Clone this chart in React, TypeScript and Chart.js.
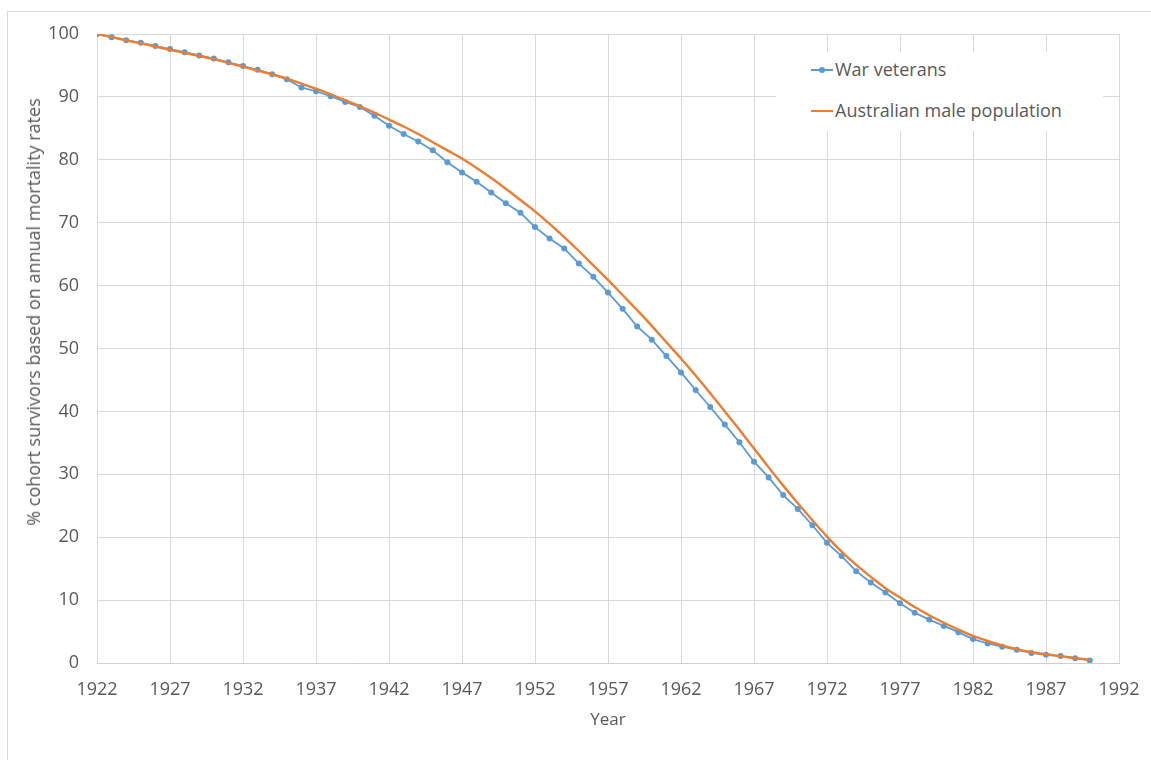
import React, { useEffect, useRef } from "react";
import { Chart, registerables } from "chart.js";

Chart.register(...registerables);

const years: number[] = [
  1922, 1923, 1924, 1925, 1926, 1927, 1928, 1929, 1930, 1931,
  1932, 1933, 1934, 1935, 1936, 1937, 1938, 1939, 1940, 1941,
  1942, 1943, 1944, 1945, 1946, 1947, 1948, 1949, 1950, 1951,
  1952, 1953, 1954, 1955, 1956, 1957, 1958, 1959, 1960, 1961,
  1962, 1963, 1964, 1965, 1966, 1967, 1968, 1969, 1970, 1971,
  1972, 1973, 1974, 1975, 1976, 1977, 1978, 1979, 1980, 1981,
  1982, 1983, 1984, 1985, 1986, 1987, 1988, 1989, 1990,
];

const warVeterans: number[] = [
  100, 99.5, 99.0, 98.6, 98.1, 97.6, 97.1, 96.6, 96.1, 95.5,
  94.9, 94.3, 93.6, 92.8, 91.5, 90.9, 90.1, 89.2, 88.4, 87.0,
  85.4, 84.1, 82.9, 81.5, 79.6, 78.0, 76.5, 74.8, 73.1, 71.6,
  69.3, 67.5, 65.9, 63.5, 61.4, 58.9, 56.3, 53.5, 51.4, 48.8,
  46.2, 43.4, 40.7, 37.9, 35.1, 32.0, 29.5, 26.7, 24.5, 21.9,
  19.1, 17.0, 14.6, 12.8, 11.2, 9.5, 8.0, 6.9, 5.9, 4.9,
  3.8, 3.1, 2.6, 2.1, 1.6, 1.3, 1.1, 0.75, 0.4,
];

const australianMales: number[] = [
  100, 99.5, 99.0, 98.5, 98.0, 97.5, 97.0, 96.5, 96.0, 95.4,
  94.8, 94.2, 93.6, 92.9, 92.1, 91.3, 90.4, 89.5, 88.5, 87.5,
  86.4, 85.3, 84.1, 82.8, 81.5, 80.2, 78.7, 77.1, 75.4, 73.6,
  71.8, 69.8, 67.7, 65.5, 63.2, 60.9, 58.5, 56.1, 53.6, 51.0,
  48.4, 45.7, 42.9, 40.0, 37.1, 34.1, 31.1, 28.2, 25.4, 22.7,
  20.1, 17.7, 15.6, 13.7, 11.9, 10.4, 8.9, 7.6, 6.4, 5.3,
  4.3, 3.5, 2.8, 2.2, 1.7, 1.4, 1.1, 0.8, 0.5,
];

const xTicks: number[] = [1922, 1927, 1932, 1937, 1942, 1947, 1952, 1957, 1962, 1967, 1972, 1977, 1982, 1987, 1992];
const yTicks: number[] = [0, 10, 20, 30, 40, 50, 60, 70, 80, 90, 100];

const seriesNames = ["War veterans", "Australian male population"];
const xTitle = "Year";
const yTitle = "% cohort survivors based on annual mortality rates";
const BLUE = "#5b9bd5";
const ORANGE = "#ed7d31";
const TEXT = "#595959";
const GRID = "#d9d9d9";
const FONT = "'Open Sans', sans-serif";

export default function App() {
  const ref = useRef<HTMLCanvasElement | null>(null);

  useEffect(() => {
    if (!ref.current) return;
    const chart = new Chart(ref.current, {
      type: "line",
      data: {
        datasets: [
          {
            label: seriesNames[0],
            data: years.map((y, i) => ({ x: y, y: warVeterans[i] })),
            borderColor: BLUE,
            backgroundColor: BLUE,
            borderWidth: 1.8,
            pointRadius: 3,
            pointBorderWidth: 0,
            pointBackgroundColor: BLUE,
            tension: 0,
            order: 2,
          },
          {
            label: seriesNames[1],
            data: years.map((y, i) => ({ x: y, y: australianMales[i] })),
            borderColor: ORANGE,
            backgroundColor: ORANGE,
            borderWidth: 2.4,
            pointRadius: 0,
            cubicInterpolationMode: "monotone",
            order: 1,
          },
        ],
      },
      options: {
        responsive: false,
        animation: false,
        layout: { padding: { left: 0, right: 32, top: 34, bottom: 0 } },
        plugins: {
          legend: { display: false },
          tooltip: { enabled: false },
        },
        scales: {
          x: {
            type: "linear",
            min: 1922,
            max: 1992,
            afterBuildTicks: (axis: any) => {
              axis.ticks = xTicks.map((v) => ({ value: v }));
            },
            afterFit: (axis: any) => {
              axis.height = 97;
              axis.paddingLeft = 0;
              axis.paddingRight = 0;
            },
            ticks: {
              color: TEXT,
              font: { family: FONT, size: 18 },
              padding: 16,
              maxRotation: 0,
              autoSkip: false,
              callback: (v: any) => String(v),
            },
            grid: { color: GRID, drawTicks: false, lineWidth: 1 },
            border: { color: "#d0d0d0", width: 1 },
            title: {
              display: true,
              text: xTitle,
              color: TEXT,
              font: { family: FONT, size: 17 },
              padding: { top: 0, bottom: 30 },
            },
          },
          y: {
            min: 0,
            max: 100,
            afterBuildTicks: (axis: any) => {
              axis.ticks = yTicks.map((v) => ({ value: v }));
            },
            afterFit: (axis: any) => {
              axis.width = 97;
              axis.paddingTop = 0;
              axis.paddingBottom = 0;
            },
            ticks: {
              color: TEXT,
              font: { family: FONT, size: 18 },
              padding: 18,
              callback: (v: any) => String(v),
            },
            grid: { color: GRID, drawTicks: false, lineWidth: 1 },
            border: { display: false },
            title: { display: false },
          },
        },
      },
    });
    return () => chart.destroy();
  }, []);

  const legendText: React.CSSProperties = {
    position: "absolute",
    fontFamily: FONT,
    fontSize: 18,
    color: TEXT,
    lineHeight: "24px",
    whiteSpace: "nowrap",
  };

  return (
    <div style={{ position: "fixed", left: 0, top: 0, width: 1151, height: 760, background: "#fff", overflow: "hidden" }}>
      <div
        style={{
          position: "absolute",
          left: 7,
          top: 11,
          width: 1170,
          height: 780,
          border: "1px solid #d9d9d9",
          boxSizing: "border-box",
        }}
      />
      <canvas ref={ref} width={1151} height={760} style={{ position: "absolute", left: 0, top: 0 }} />
      <div
        style={{
          position: "absolute",
          left: 33,
          top: 312,
          transform: "translate(-50%, -50%) rotate(-90deg)",
          fontFamily: FONT,
          fontSize: 18,
          color: TEXT,
          whiteSpace: "nowrap",
          lineHeight: "22px",
        }}
      >
        {yTitle}
      </div>
      <div style={{ position: "absolute", left: 776, top: 52, width: 327, height: 79, background: "#fff" }}>
        <div style={{ position: "absolute", left: 35, top: 17, width: 22, height: 2, background: BLUE }} />
        <div style={{ position: "absolute", left: 43, top: 15, width: 6, height: 6, borderRadius: 3, background: BLUE }} />
        <div style={{ ...legendText, left: 59, top: 5 }}>{seriesNames[0]}</div>
        <div style={{ position: "absolute", left: 35, top: 58, width: 22, height: 2, background: ORANGE }} />
        <div style={{ ...legendText, left: 59, top: 46 }}>{seriesNames[1]}</div>
      </div>
    </div>
  );
}
